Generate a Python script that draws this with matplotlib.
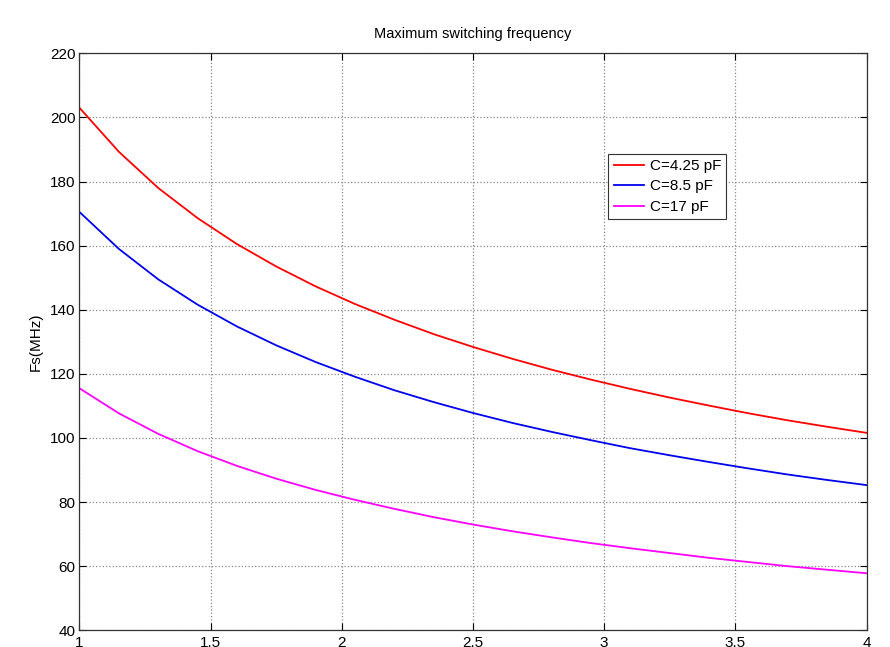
import matplotlib
matplotlib.use('Agg')
import matplotlib.pyplot as plt

plt.rcParams['font.family'] = ['Liberation Sans', 'DejaVu Sans']

# valores
x = [1.00, 1.15, 1.30, 1.45, 1.60, 1.75, 1.90, 2.05, 2.20, 2.35, 2.50,
     2.65, 2.80, 2.95, 3.10, 3.25, 3.40, 3.55, 3.70, 3.85, 4.00]
fs_425 = [203.0, 189.3, 178.0, 168.6, 160.5, 153.5, 147.3, 141.8, 136.9, 132.4, 128.4,
          124.7, 121.3, 118.2, 115.3, 112.6, 110.1, 107.7, 105.5, 103.5, 101.6]
fs_85 = [170.5, 159.0, 149.5, 141.6, 134.8, 128.9, 123.7, 119.1, 114.9, 111.2, 107.8,
         104.7, 101.9, 99.3, 96.8, 94.6, 92.5, 90.5, 88.6, 86.9, 85.3]
fs_17 = [115.5, 107.7, 101.3, 95.9, 91.3, 87.3, 83.8, 80.7, 77.9, 75.3, 73.0,
         70.9, 69.0, 67.2, 65.6, 64.1, 62.6, 61.3, 60.0, 58.9, 57.8]
etiquetas = ['C=4.25 pF', 'C=8.5 pF', 'C=17 pF']
colores = ['#ff0000', '#0000ee', '#ff00ff']

xticks = [1, 1.5, 2, 2.5, 3, 3.5, 4]
yticks = [40, 60, 80, 100, 120, 140, 160, 180, 200, 220]

fig = plt.figure(figsize=(8.9, 6.47), dpi=100)
ax = fig.add_axes([0.0893, 0.0258, 0.8843, 0.8918])

for serie, lab, col in zip([fs_425, fs_85, fs_17], etiquetas, colores):
    ax.plot(x, serie, color=col, linewidth=1.3, label=lab)

ax.set_xlim(1, 4)
ax.set_ylim(40, 220)
ax.set_xticks(xticks)
ax.set_xticklabels(['1', '1.5', '2', '2.5', '3', '3.5', '4'])
ax.set_yticks(yticks)
ax.tick_params(direction='in', length=5, width=0.8, top=True, right=True,
               labelsize=11, pad=3)
ax.tick_params(axis='x', pad=4)
ax.grid(True, linestyle=':', color='#888888', linewidth=0.9)
for s in ax.spines.values():
    s.set_color('#333333')
    s.set_linewidth(0.9)

ax.set_ylabel('Fs(MHz)', fontsize=11, labelpad=5)
ax.set_title('Maximum switching frequency', fontsize=10.5, pad=11)

leg = ax.legend(loc='upper left', bbox_to_anchor=(0.672, 0.826), fontsize=11,
                fancybox=False, framealpha=1, edgecolor='#333333',
                handlelength=2.0, borderpad=0.35, labelspacing=0.42,
                handletextpad=0.35, borderaxespad=0)
leg.get_frame().set_linewidth(0.8)

plt.savefig('out.png', dpi=100)
